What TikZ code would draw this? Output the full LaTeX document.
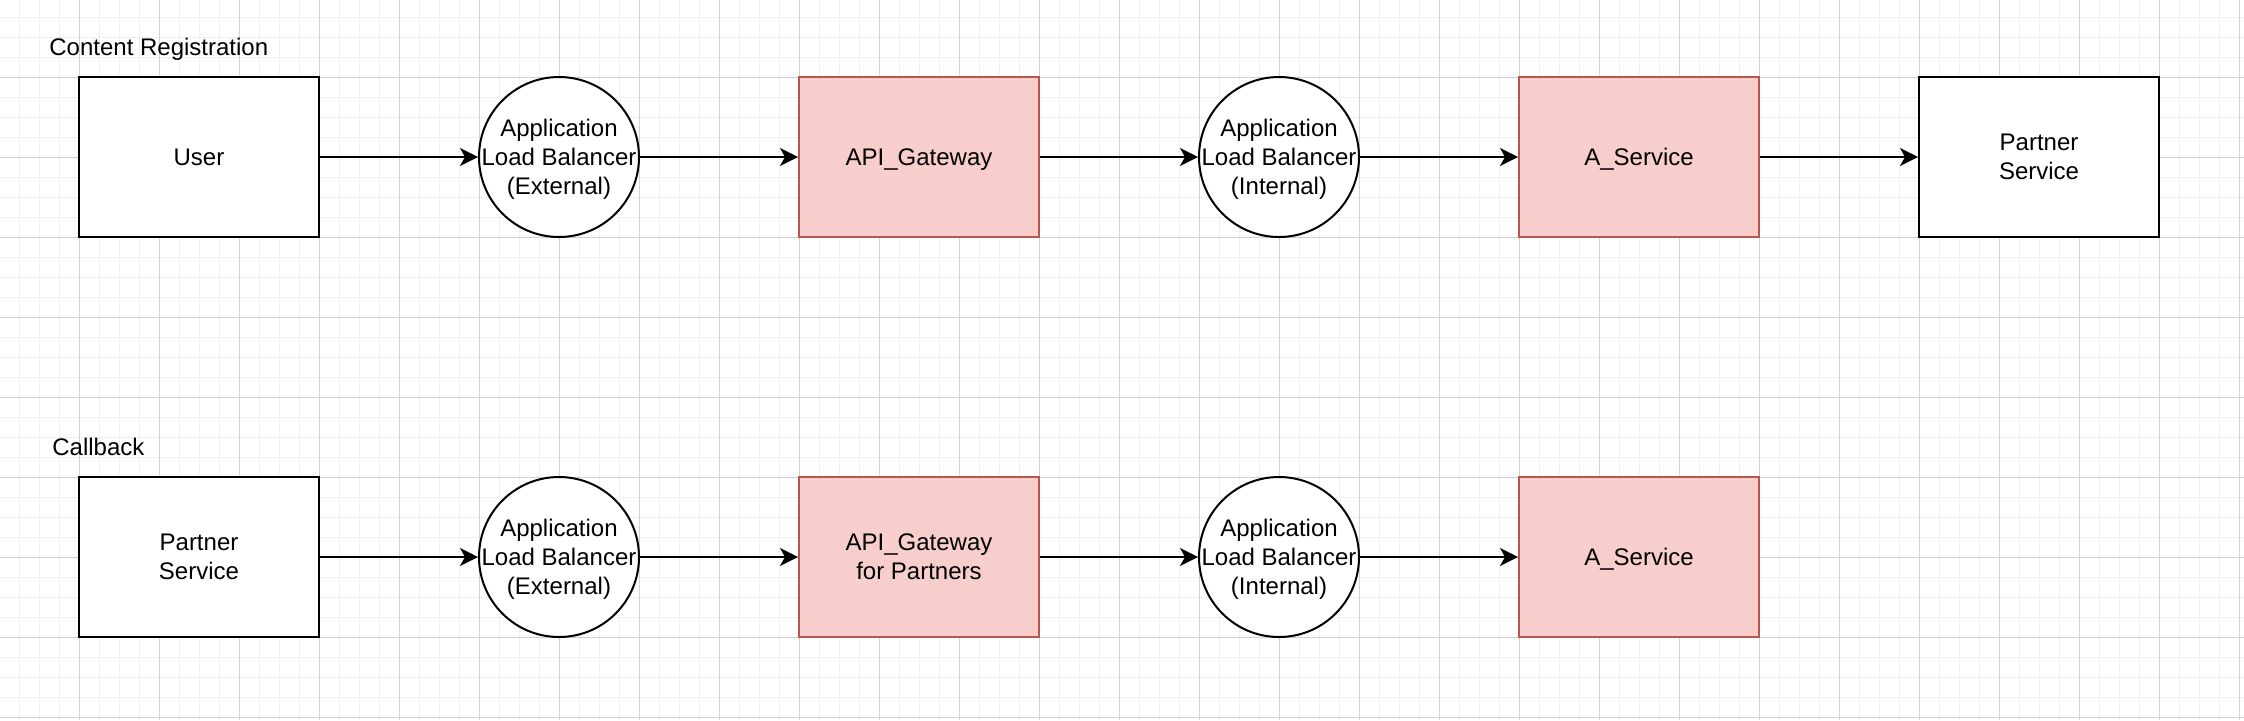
\documentclass[tikz,border=0pt]{standalone}
\usepackage{fontspec}
\setmainfont{Liberation Sans}
\usetikzlibrary{arrows.meta}
\definecolor{gwfill}{HTML}{F8CECC}
\definecolor{gwdraw}{HTML}{B85450}
\definecolor{gridmaj}{HTML}{D3D3D3}
\definecolor{gridmin}{HTML}{F0F0F0}

\begin{document}
\begin{tikzpicture}[x=0.5pt,y=-0.5pt,
		txt/.style={font=\fontsize{12}{14.5}\selectfont,align=center,text depth=0pt},
		box/.style={rectangle,draw=black,fill=white,line width=1pt,minimum width=120pt,minimum height=80pt,inner sep=0pt,txt},
		gw/.style={box,draw=gwdraw,fill=gwfill},
		alb/.style={circle,draw=black,fill=white,line width=1pt,minimum size=80pt,inner sep=0pt}]
		\useasboundingbox (0,0) rectangle (2244,720);
		\fill[white] (0,0) rectangle (2244,720);
		% grid
		\foreach \gx in {19,39,...,2239} \draw[gridmin,line width=0.5pt] (\gx,0) -- (\gx,720);
		\foreach \gy in {17,37,...,717} \draw[gridmin,line width=0.5pt] (0,\gy) -- (2244,\gy);
		\foreach \gx in {79,159,...,2239} \draw[gridmaj,line width=0.5pt] (\gx,0) -- (\gx,720);
		\foreach \gy in {77,157,...,717} \draw[gridmaj,line width=0.5pt] (0,\gy) -- (2244,\gy);

		\node[txt,anchor=west,inner sep=0pt] (title1) at (49,47) {Content Registration};
		\node[txt,anchor=west,inner sep=0pt] (title2) at (52,447) {Callback};

		% content registration
		\node[box] (user) at (199,157) {User};
		\node[alb,label={[txt]center:Application\\Load Balancer\\(External)}] (albext) at (559,157) {};
		\node[gw] (apigw) at (919,157) {API\_Gateway};
		\node[alb,label={[txt]center:Application\\Load Balancer\\(Internal)}] (albint) at (1279,157) {};
		\node[gw] (asvc) at (1639,157) {A\_Service};
		\node[box] (partner) at (2039,157) {Partner\\Service};

		% callback
		\node[box] (partner2) at (199,557) {Partner\\Service};
		\node[alb,label={[txt]center:Application\\Load Balancer\\(External)}] (albext2) at (559,557) {};
		\node[gw] (apigw2) at (919,557) {API\_Gateway\\for Partners};
		\node[alb,label={[txt]center:Application\\Load Balancer\\(Internal)}] (albint2) at (1279,557) {};
		\node[gw] (asvc2) at (1639,557) {A\_Service};

		\begin{scope}[>={Stealth[length=9pt,width=9pt,inset=2.5pt]},
		              every edge/.style={draw=black,line width=1pt,->}]
			\path (user) edge (albext);
			\path (albext) edge (apigw);
			\path (apigw) edge (albint);
			\path (albint) edge (asvc);
			\path (asvc) edge (partner);
			\path (partner2) edge (albext2);
			\path (albext2) edge (apigw2);
			\path (apigw2) edge (albint2);
			\path (albint2) edge (asvc2);
		\end{scope}
\end{tikzpicture}
\end{document}
